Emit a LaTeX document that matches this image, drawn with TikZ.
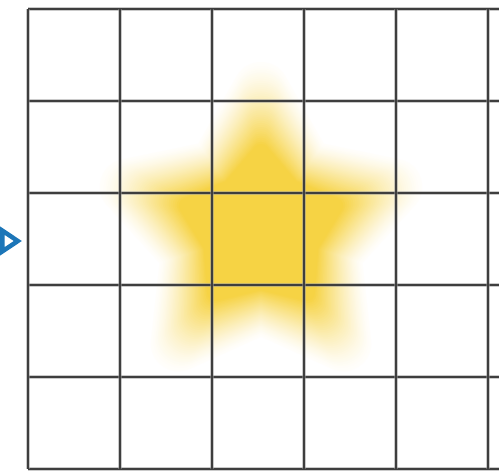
\documentclass[tikz,border=0pt]{standalone}
\usetikzlibrary{arrows.meta}
\definecolor{starcol}{RGB}{246,211,68}
\definecolor{gridcol}{RGB}{62,62,62}
\definecolor{halocol}{RGB}{150,150,150}
\definecolor{arrowcol}{RGB}{28,118,184}
\tikzset{
  gridline/.style={draw=gridcol, line width=2.4},
  gridhalo/.style={draw=halocol, line width=4.2, opacity=0.5},
  starlevel/.style={fill=levcol, draw=levcol, line join=round},
  pointer/.style={draw=arrowcol, line width=3, -{Triangle[open, length=22, width=28, line width=4.5]}}
}
\newcommand{\starshape}[2]{(-90:#1) -- (-54:#2) -- (-18:#1) -- (18:#2) -- (54:#1) -- (90:#2) -- (126:#1) -- (162:#2) -- (198:#1) -- (234:#2) -- cycle}
\begin{document}
\begin{tikzpicture}[x=1pt,y=-1pt]
\useasboundingbox (0,0) rectangle (499,472);
\fill[white] (0,0) rectangle (499,472);
% blurred star: opaque nested levels, pale outside to saturated inside
\begin{scope}[shift={(261,230)}]
\foreach \i in {0,...,39} {
  \pgfmathsetmacro{\t}{\i/39}
  \pgfmathsetmacro{\R}{140-62*\t}
  \pgfmathsetmacro{\r}{76-24*\t}
  \pgfmathsetmacro{\w}{56-40*\t}
  \pgfmathsetmacro{\f}{100*(0.02+0.98*(\t^1.35))}
  \colorlet{levcol}{starcol!\f!white}
  \path[starlevel, line width=\w] \starshape{\R}{\r};
}
\end{scope}
% grid
\foreach \y in {9,101,193,285,377,469} {
  \draw[gridhalo] (28,\y) -- (499,\y);
  \draw[gridline] (28,\y) -- (499,\y);
}
\foreach \x in {28,120,212,304,396,488} {
  \draw[gridhalo] (\x,9) -- (\x,469);
  \draw[gridline] (\x,9) -- (\x,469);
}
% arrow
\coordinate (arrowtail) at (-40,241);
\coordinate (arrowtip) at (22,241);
\draw[pointer] (arrowtail) -- (arrowtip);
\end{tikzpicture}
\end{document}
